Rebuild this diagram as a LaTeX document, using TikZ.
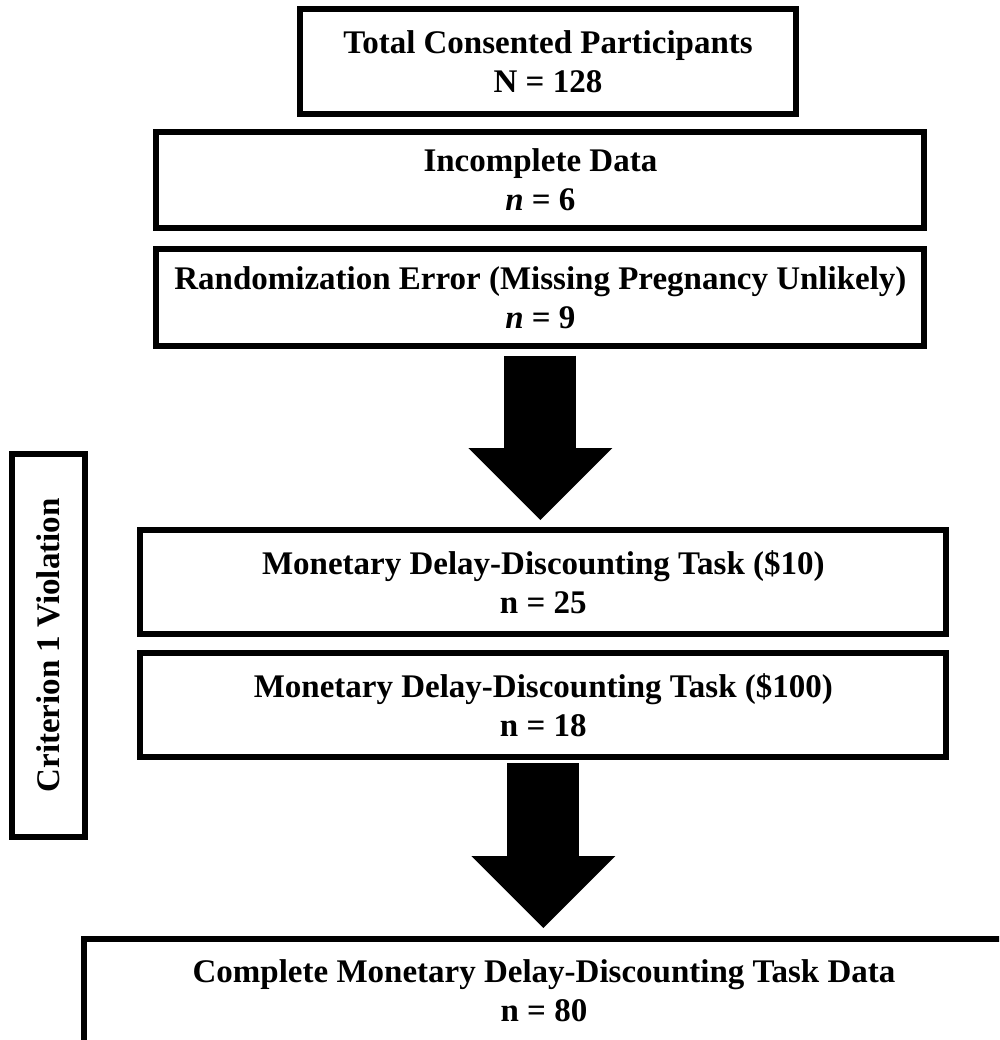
\documentclass[tikz,border=0pt]{standalone}
\usepackage{fontspec}
\setmainfont{Liberation Serif}
\usetikzlibrary{arrows.meta}

\begin{document}
\begin{tikzpicture}[x=1pt,y=-1pt,
        box/.style={draw,line width=6pt,align=center,inner sep=0pt,
                font=\fontsize{33}{39}\selectfont\bfseries},
        bigarrow/.style={line width=72pt,-{Triangle[length=72pt,width=144pt,line width=0pt]}}]
        \useasboundingbox (0,0) rectangle (999,1040);
        \clip (0,0) rectangle (999,1040);
        \node[box,minimum width=496pt,minimum height=104.5pt] (total) at (548,61.7) {Total Consented Participants\\N = 128};
        \node[box,minimum width=768pt,minimum height=95.6pt] (incomplete) at (540.4,180) {Incomplete Data\\{\itshape n} = 6};
        \node[box,minimum width=768pt,minimum height=96pt] (randerr) at (540.4,297.5) {Randomization Error (Missing Pregnancy Unlikely)\\{\itshape n} = 9};
        \node[box,minimum width=806pt,minimum height=104pt] (mdd10) at (543.3,582) {Monetary Delay-Discounting Task (\$10)\\n = 25};
        \node[box,minimum width=806pt,minimum height=104pt] (mdd100) at (543.3,705) {Monetary Delay-Discounting Task (\$100)\\n = 18};
        \node[box,minimum width=920pt,minimum height=104pt] (complete) at (544,991) {Complete Monetary Delay-Discounting Task Data\\n = 80};
        \node[box,rotate=90,minimum width=383.3pt,minimum height=72.3pt] (crit) at (48.4,645.4) {Criterion 1 Violation};
        \draw[bigarrow,shorten <=7pt,shorten >=7pt] (randerr.south) -- (randerr.south |- mdd10.north);
        \draw[bigarrow,shorten <=3pt,shorten >=8pt] (mdd100.south) -- (mdd100.south |- complete.north);
\end{tikzpicture}
\end{document}
